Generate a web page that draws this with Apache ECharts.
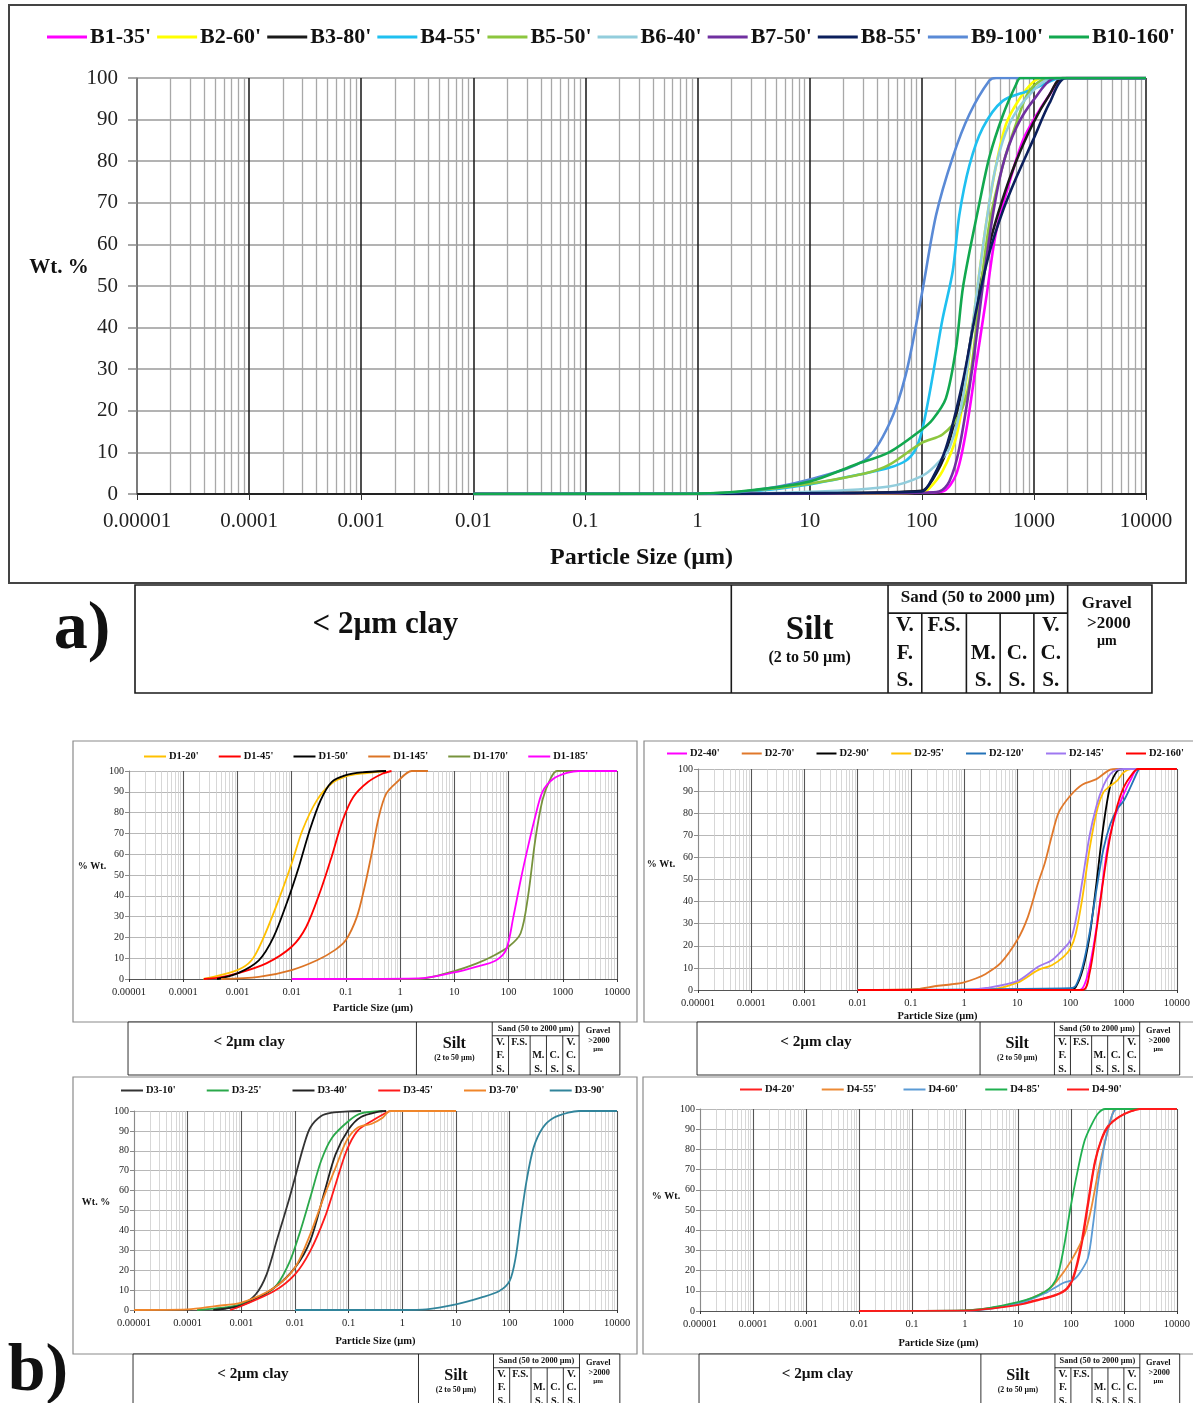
<!DOCTYPE html>
<html>
<head>
<meta charset="utf-8">
<title>Particle size distribution</title>
<script src="https://cdn.jsdelivr.net/npm/echarts@6/dist/echarts.min.js"></script>
<style>
html, body { margin: 0; padding: 0; background: #fff; }
#chart { width: 1193px; height: 1403px; }
</style>
</head>
<body>
<div id="chart"></div>
<script>
// ---------------- data: panel a (B wells) ----------------
var bNames = ["B1-35'", "B2-60'", "B3-80'", "B4-55'", "B5-50'", "B6-40'", "B7-50'", "B8-55'", "B9-100'", "B10-160'"];
var bColors = ["#ff00ff", "#ffff00", "#1a1a1a", "#1fc0f0", "#8cc63e", "#92cddc", "#7030a0", "#0b1f5c", "#5a8ad6", "#12a84f"];
var b1_35 = [[0.01, 0], [1, 0], [10, 0.1], [100, 0.3], [153, 0.6], [202, 4.6], [248, 15], [305, 31], [375, 47], [460, 63], [606, 75], [798, 85], [1050, 91], [1380, 96], [1817, 100], [10000, 100]];
var b2_60 = [[0.01, 0], [1, 0], [10, 0.1], [100, 0.4], [117, 1.4], [153, 5.5], [202, 13.5], [248, 27], [305, 47], [375, 65], [460, 79], [566, 89], [745, 95], [980, 99], [1203, 100], [10000, 100]];
var b3_80 = [[0.01, 0], [1, 0], [10, 0.2], [100, 0.8], [125, 3.5], [164, 10], [232, 26], [305, 45], [401, 60], [528, 71], [695, 80], [980, 89], [1380, 96], [1800, 100], [10000, 100]];
var b4_55 = [[0.01, 0], [1, 0.1], [3, 0.6], [10, 2.3], [31.6, 5], [51, 6.3], [72, 8], [87, 10.5], [100, 15], [117, 24], [132, 32], [153, 42], [189, 53.6], [216, 67], [266, 79], [350, 88], [528, 94.5], [915, 97], [1585, 99.8], [1800, 100], [10000, 100]];
var b5_50 = [[0.01, 0], [1, 0.1], [3, 0.8], [10, 2.5], [31.6, 5], [51, 7], [100, 12.3], [153, 14.3], [216, 19], [266, 27], [327, 47], [401, 65], [528, 79], [695, 89], [915, 97], [1380, 100], [10000, 100]];
var b6_40 = [[0.01, 0], [1, 0], [10, 0.5], [51, 1.8], [100, 4.3], [134, 7], [176, 11], [232, 23], [305, 47], [375, 65], [460, 79], [606, 89], [915, 96], [1479, 100], [10000, 100]];
var b7_50 = [[0.01, 0], [1, 0], [10, 0.1], [100, 0.3], [143, 0.6], [176, 3], [216, 11], [285, 31], [350, 50], [430, 67], [528, 79], [695, 88], [980, 94.5], [1585, 100], [10000, 100]];
var b8_55 = [[0.01, 0], [1, 0], [10, 0.2], [100, 0.6], [125, 3.9], [164, 11], [232, 27], [305, 44], [401, 58], [528, 68], [695, 76], [980, 85], [1380, 94], [1946, 100], [10000, 100]];
var b9_100 = [[0.01, 0], [1, 0.1], [3, 0.8], [10, 3.5], [31.6, 8.3], [51, 16.7], [72, 28.7], [100, 48], [134, 67], [189, 81], [266, 91.3], [401, 99.4], [460, 100], [10000, 100]];
var b10_160 = [[0.01, 0], [1, 0.1], [3, 0.9], [10, 3], [25.8, 7.1], [51, 10], [100, 15.5], [125, 17.9], [164, 23], [202, 35], [234, 50], [327, 70], [401, 81], [528, 91], [695, 98.5], [760, 100], [10000, 100]];
var bData = [b1_35, b2_60, b3_80, b4_55, b5_50, b6_40, b7_50, b8_55, b9_100, b10_160];

// ---------------- data: panel b (D wells) ----------------
var d1Names = ["D1-20'", "D1-45'", "D1-50'", "D1-145'", "D1-170'", "D1-185'"];
var d1Colors = ["#ffc000", "#ff0000", "#000000", "#dc7425", "#77933c", "#ff00ff"];
var d1_20 = [[0.000237, 0], [0.001, 4.3], [0.00182, 9], [0.00289, 18.7], [0.00537, 36], [0.01, 55.5], [0.0158, 71.5], [0.0293, 86], [0.0545, 94], [0.1, 97.4], [0.187, 98.7], [0.552, 100]];
var d1_45 = [[0.00024, 0], [0.00042, 0.5], [0.001, 2.7], [0.0034, 7.5], [0.01, 15.5], [0.0185, 25], [0.0343, 42.7], [0.0545, 58.7], [0.0865, 76], [0.137, 87.5], [0.255, 94.7], [0.47, 98.7], [0.695, 100]];
var d1_50 = [[0.00042, 0], [0.001, 2.7], [0.00248, 9], [0.0046, 20], [0.0085, 38], [0.0136, 54], [0.0215, 71.5], [0.0343, 86], [0.0545, 94.7], [0.1, 98], [0.2, 99.3], [0.55, 100]];
var d1_145 = [[0.0005, 0], [0.00248, 1], [0.01, 4.3], [0.0293, 9], [0.0635, 14], [0.1, 18.7], [0.16, 30], [0.22, 44], [0.297, 60], [0.405, 78], [0.552, 89], [0.877, 94.7], [1.63, 100], [3.26, 100]];
var d1_170 = [[0.01, 0], [2.2, 0], [10, 3.8], [26, 7.5], [48.6, 10.7], [100, 15.5], [167, 22], [228, 39.5], [310, 66.7], [422, 86], [575, 95.5], [784, 100], [10000, 100]];
var d1_185 = [[0.01, 0], [2.2, 0.3], [10, 3.2], [26, 6], [57, 8.8], [90, 14], [123, 30], [167, 47.5], [228, 63.5], [310, 78], [422, 90], [671, 96.3], [1245, 99.2], [1980, 100], [10000, 100]];
var d1Data = [d1_20, d1_45, d1_50, d1_145, d1_170, d1_185];

var d2Names = ["D2-40'", "D2-70'", "D2-90'", "D2-95'", "D2-120'", "D2-145'", "D2-160'"];
var d2Colors = ["#ff00ff", "#e0782b", "#000000", "#ffc000", "#2473b8", "#9f78f0", "#ff0000"];
var d2_40 = [[0.01, 0], [148, 0], [200, 5], [270, 19.6], [364, 40.8], [490, 63.6], [660, 77.2], [1000, 88.6], [1375, 95.4], [1855, 100], [10000, 100]];
var d2_70 = [[0.01, 0], [0.134, 0.5], [0.28, 1.7], [0.593, 2.6], [1, 3.5], [1.66, 5.2], [2.6, 7.4], [4.8, 12], [10, 22.6], [15.8, 33], [24.6, 48.4], [33, 57.5], [44.6, 69.7], [60, 80.3], [100, 88], [169, 93], [308, 95.4], [560, 99.7], [755, 100], [10000, 100]];
var d2_90 = [[0.01, 0], [100, 0.3], [126, 1.4], [169, 9], [228, 24], [308, 48.4], [415, 74], [560, 92.4], [755, 99], [1000, 100], [10000, 100]];
var d2_95 = [[0.01, 0], [2.6, 0], [10, 3.3], [24.6, 9], [44.6, 11.2], [74, 15], [100, 18.8], [126, 25.6], [169, 42.3], [228, 63.6], [308, 80.3], [415, 89.4], [560, 92.4], [755, 94.7], [1000, 98.5], [1375, 100], [10000, 100]];
var d2_120 = [[0.01, 0], [100, 0.8], [126, 2], [169, 10.5], [228, 25.6], [308, 45.4], [415, 63.6], [560, 75], [755, 81.8], [1000, 85.6], [1375, 92.4], [1855, 99.2], [2000, 100], [10000, 100]];
var d2_145 = [[0.01, 0], [1, 0], [2.6, 0.9], [10, 4], [24.6, 10.5], [44.6, 13.5], [70, 18], [100, 22.6], [126, 31.7], [169, 50], [228, 69.7], [308, 83.3], [415, 92.4], [560, 97.7], [755, 99.7], [1000, 100], [10000, 100]];
var d2_160 = [[0.01, 0], [169, 0], [228, 7.4], [308, 27], [415, 50], [560, 69.7], [755, 83.3], [1000, 91.7], [1375, 97], [1855, 100], [10000, 100]];
var d2Data = [d2_40, d2_70, d2_90, d2_95, d2_120, d2_145, d2_160];

var d3Names = ["D3-10'", "D3-25'", "D3-40'", "D3-45'", "D3-70'", "D3-90'"];
var d3Colors = ["#333333", "#2aa84a", "#222222", "#ff1a1a", "#f0862a", "#31849b"];
var d3_10 = [[0.00033, 0], [0.001, 2.8], [0.00186, 7.9], [0.00296, 17.9], [0.0047, 36], [0.0076, 54.8], [0.01, 66.5], [0.0142, 81.6], [0.0192, 91.6], [0.0307, 97.5], [0.049, 99.2], [0.1, 99.8], [0.17, 100]];
var d3_25 = [[0.00015, 0], [0.001, 2.8], [0.0041, 11.2], [0.0076, 23], [0.012, 38], [0.0192, 56.4], [0.0307, 75], [0.049, 86.6], [0.1, 95], [0.17, 98.8], [0.43, 100]];
var d3_40 = [[0.0003, 0], [0.001, 2.3], [0.0041, 11.2], [0.01, 21.3], [0.0192, 34.7], [0.0358, 59.8], [0.057, 78.2], [0.1, 90.8], [0.17, 97], [0.37, 99.7], [0.5, 100]];
var d3_45 = [[0.00062, 0], [0.001, 2], [0.0041, 9.5], [0.01, 17.9], [0.0192, 29.6], [0.0358, 46.4], [0.057, 63.1], [0.091, 79.9], [0.146, 90], [0.27, 95], [0.507, 99.2], [0.59, 100]];
var d3_70 = [[0.00001, 0], [0.0001, 0.3], [0.00033, 2], [0.001, 3.7], [0.0041, 11.2], [0.01, 21.3], [0.0192, 38], [0.0358, 58], [0.057, 71.5], [0.091, 85], [0.146, 91.6], [0.27, 93.6], [0.43, 96.6], [0.59, 100], [10, 100]];
var d3_90 = [[0.01, 0], [1, 0], [2.8, 0.3], [10, 2.8], [29, 6.2], [64, 9.5], [100, 14.6], [129, 26.3], [163, 46.4], [206, 64.8], [279, 81.6], [414, 91.6], [661, 96.6], [1240, 99.2], [1970, 100], [10000, 100]];
var d3Data = [d3_10, d3_25, d3_40, d3_45, d3_70, d3_90];

var d4Names = ["D4-20'", "D4-55'", "D4-60'", "D4-85'", "D4-90'"];
var d4Colors = ["#ff2020", "#ec8a35", "#5b9bd5", "#20b050", "#ff1a1a"];
var d4_20 = [[0.01, 0], [1, 0.3], [2.66, 1.3], [10, 3.3], [25.4, 5.8], [54, 8.2], [85, 11.5], [114, 18], [155, 33], [210, 54], [283, 74], [381, 85.5], [514, 92], [814, 96.2], [1274, 98.7], [1990, 100], [10000, 100]];
var d4_55 = [[0.01, 0], [1, 0.2], [10, 4.1], [34, 9.9], [54, 14.8], [100, 24.7], [180, 37.8], [243, 51], [328, 69], [443, 84], [600, 97], [697, 100], [10000, 100]];
var d4_60 = [[0.01, 0], [1, 0], [10, 3.6], [34, 9], [73, 14], [114, 15.6], [155, 19.7], [210, 26.3], [262, 42.8], [328, 64], [443, 84], [600, 97], [752, 100], [10000, 100]];
var d4_85 = [[0.01, 0], [1, 0.3], [10, 4.4], [34, 9.9], [54, 16.4], [73, 31], [98, 51], [133, 69], [180, 84], [243, 92], [328, 97.9], [443, 100], [10000, 100]];
var d4_90 = [[0.01, 0], [1, 0.2], [10, 3], [25.4, 5.5], [54, 8], [85, 11], [114, 17], [155, 31], [210, 52], [283, 73], [381, 85], [514, 91.5], [814, 96], [1274, 98.5], [1990, 100], [10000, 100]];
var d4Data = [d4_20, d4_55, d4_60, d4_85, d4_90];

// size class limits (µm) used by the classification bar under each chart
var sizeClasses = [2, 50, 100, 250, 500, 1000, 2000];
var barEdges = [0.00001, 11300];
var sandLabels = [["V.", "F.", "S."], ["F.S."], ["", "M.", "S."], ["", "C.", "S."], ["V.", "C.", "S."]];

// ----------------------------------------------------------------
var FONT = "'Liberation Serif', 'Times New Roman', serif";

var panels = [
  { grid: { left: 137, top: 78, width: 1009, height: 416 }, names: bNames, colors: bColors, data: bData, big: true,
    legend: { left: 47, top: 26, itemGap: 6, itemWidth: 40 }, yTitle: "Wt. %", yTitlePos: [59, 268], frame: [9, 5, 1177, 578], bar: [585, 108, 1], nameGap: 52 },
  { grid: { left: 129, top: 771, width: 488, height: 208 }, names: d1Names, colors: d1Colors, data: d1Data,
    legend: { left: 144, top: 751, itemGap: 20, itemWidth: 22 }, yTitle: "% Wt.", yTitlePos: [92, 866], frame: [73, 741, 564, 281], bar: [1022, 53, 0.49], nameGap: 24 },
  { grid: { left: 698, top: 769, width: 488, height: 221 }, names: d2Names, colors: d2Colors, data: d2Data,
    legend: { left: 667, top: 748, itemGap: 22, itemWidth: 20 }, yTitle: "% Wt.", yTitlePos: [661, 864], frame: [644, 741, 560, 281], bar: [1022, 53, 0.49], nameGap: 21 },
  { grid: { left: 134, top: 1111, width: 483, height: 199 }, names: d3Names, colors: d3Colors, data: d3Data,
    legend: { left: 121, top: 1085, itemGap: 31, itemWidth: 22 }, yTitle: "Wt. %", yTitlePos: [96, 1202], frame: [73, 1077, 564, 277], bar: [1354, 53, 0.49], nameGap: 26 },
  { grid: { left: 700, top: 1109, width: 487, height: 202 }, names: d4Names, colors: d4Colors, data: d4Data,
    legend: { left: 740, top: 1084, itemGap: 27, itemWidth: 22 }, yTitle: "% Wt.", yTitlePos: [666, 1196], frame: [643, 1077, 560, 277], bar: [1354, 53, 0.49], nameGap: 27 }
];

function sizeLabel(v) {
  return String(+Number(v).toPrecision(3));
}

var grids = [], xAxes = [], yAxes = [], legends = [], series = [];
panels.forEach(function (p, i) {
  var big = !!p.big;
  grids.push(p.grid);
  xAxes.push({
    type: "log", logBase: 10, gridIndex: i, min: 0.00001, max: 10000, splitNumber: 9,
    name: "Particle Size (µm)", nameLocation: "middle", nameGap: p.nameGap,
    nameTextStyle: { fontFamily: FONT, fontWeight: "bold", fontSize: big ? 24 : 10.5, color: "#111" },
    axisLine: { show: true, onZero: false, lineStyle: { color: big ? "#222" : "#555", width: big ? 2 : 1 } },
    axisTick: { show: true, length: big ? 6 : 3, lineStyle: { color: "#333" } },
    axisLabel: { fontFamily: FONT, fontSize: big ? 21 : 10.5, color: "#222", margin: big ? 17 : 8, formatter: sizeLabel },
    splitLine: { show: true, lineStyle: { color: big ? "#222" : "#555", width: big ? 1.6 : 1.1 } },
    minorTick: { show: false, splitNumber: 9 },
    minorSplitLine: { show: true, lineStyle: { color: big ? "#a8a8a8" : "#cdcdcd", width: big ? 1.3 : 0.8 } }
  });
  yAxes.push({
    type: "value", gridIndex: i, min: 0, max: 100, interval: 10,
    axisLine: { show: true, lineStyle: { color: "#8a8a8a", width: big ? 1.5 : 1 } },
    axisTick: { show: true, length: big ? 9 : 4, lineStyle: { color: "#8a8a8a", width: big ? 1.5 : 1 } },
    axisLabel: { fontFamily: FONT, fontSize: big ? 21 : 10, color: "#222", margin: big ? 19 : 5 },
    splitLine: { show: true, lineStyle: { color: big ? "#9a9a9a" : "#b8b8b8", width: big ? 1.6 : 1 } }
  });
  legends.push({
    data: p.names, left: p.legend.left, top: p.legend.top, padding: 0,
    icon: "rect", itemGap: p.legend.itemGap, itemWidth: p.legend.itemWidth, itemHeight: big ? 3 : 2,
    textStyle: { fontFamily: FONT, fontWeight: "bold", fontSize: big ? 22 : 10.5, color: "#111", padding: [0, 0, 0, -2] }
  });
  p.names.forEach(function (name, k) {
    series.push({
      name: name, type: "line", xAxisIndex: i, yAxisIndex: i,
      data: p.data[k], symbol: "none", showSymbol: false, smooth: 0.3,
      lineStyle: { color: p.colors[k], width: big ? 2.6 : 1.8 },
      itemStyle: { color: p.colors[k] },
      emphasis: { disabled: true }
    });
  });
});

var chart = echarts.init(document.getElementById("chart"));
chart.setOption({
  backgroundColor: "#fff",
  animation: false,
  grid: grids,
  xAxis: xAxes,
  yAxis: yAxes,
  legend: legends,
  series: series
});

// ---- frames, titles and classification bars ----
function txt(str, x, y, size, bold, align) {
  return {
    type: "text", x: x, y: y, z: 20,
    style: { text: str, fill: "#111", font: (bold ? "bold " : "") + size + "px " + FONT, align: align || "center", verticalAlign: "middle" }
  };
}
function seg(x1, y1, x2, y2, w) {
  return { type: "line", z: 19, shape: { x1: x1, y1: y1, x2: x2, y2: y2 }, style: { stroke: "#1a1a1a", lineWidth: w } };
}
function barGraphics(gi, top, h, s) {
  var px = function (v) { return chart.convertToPixel({ gridIndex: gi }, [v, 0])[0]; };
  var xl = px(barEdges[0]) - 2 * s, xr = px(barEdges[1]);
  var xs = sizeClasses.map(px);
  var w = s < 1 ? 0.9 : 1.6;
  var hdr = top + 0.26 * h;
  var els = [];
  els.push({ type: "rect", z: 18, shape: { x: xl, y: top, width: xr - xl, height: h }, style: { fill: "#fff", stroke: "#1a1a1a", lineWidth: w } });
  els.push(seg(xs[0], top, xs[0], top + h, w));
  els.push(seg(xs[1], top, xs[1], top + h, w));
  els.push(seg(xs[6], top, xs[6], top + h, w));
  els.push(seg(xs[1], hdr, xs[6], hdr, w));
  for (var k = 2; k < 6; k++) els.push(seg(xs[k], hdr, xs[k], top + h, w));
  els.push(txt("< 2µm clay", xl + 0.42 * (xs[0] - xl), top + 0.37 * h, 31 * s, true));
  els.push(txt("Silt", (xs[0] + xs[1]) / 2, top + 0.42 * h, 33 * s, true));
  els.push(txt("(2 to 50 µm)", (xs[0] + xs[1]) / 2, top + 0.67 * h, 16 * s, true));
  els.push(txt("Sand (50 to 2000 µm)", (xs[1] + xs[6]) / 2, top + 0.12 * h, 17 * s, true));
  var rows = [0.38, 0.635, 0.885];
  sandLabels.forEach(function (lab, j) {
    var cx = (xs[j + 1] + xs[j + 2]) / 2;
    lab.forEach(function (t, r) {
      if (t) els.push(txt(t, cx, top + rows[r] * h, 21 * s, true));
    });
  });
  var gx = (xs[6] + xr) / 2 - 3 * s;
  els.push(txt("Gravel", gx, top + 0.17 * h, 17 * s, true));
  els.push(txt(">2000", gx + 2 * s, top + 0.36 * h, 17 * s, true));
  els.push(txt("µm", gx, top + 0.52 * h, 14 * s, true));
  return els;
}

var graphics = [];
panels.forEach(function (p) {
  var f = p.frame;
  graphics.push({ type: "rect", z: 1, shape: { x: f[0], y: f[1], width: f[2], height: f[3] },
    style: { fill: "none", stroke: p.big ? "#444" : "#8a8a8a", lineWidth: p.big ? 2 : 1.2 } });
  graphics.push(txt(p.yTitle, p.yTitlePos[0], p.yTitlePos[1], p.big ? 21 : 10, true));
});
panels.forEach(function (p, i) {
  graphics = graphics.concat(barGraphics(i, p.bar[0], p.bar[1], p.bar[2]));
});
graphics.push(txt("a)", 82, 630, 68, true));
graphics.push(txt("b)", 38, 1372, 68, true));

chart.setOption({ graphic: graphics });
</script>
</body>
</html>
